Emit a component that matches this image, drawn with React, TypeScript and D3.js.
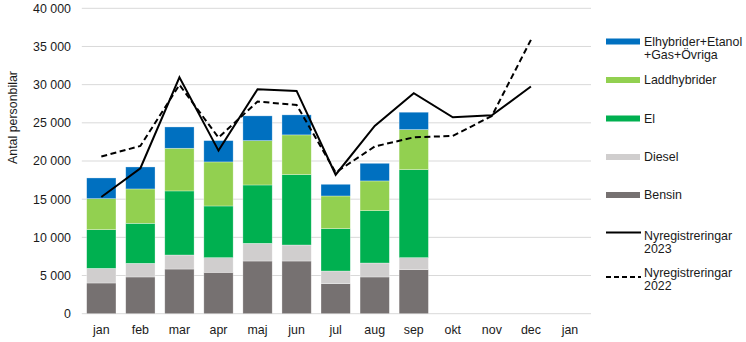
import React from "react";
import * as d3 from "d3";

const months = ["jan", "feb", "mar", "apr", "maj", "jun", "jul", "aug", "sep", "okt", "nov", "dec", "jan"];
const bensin = [4020, 4810, 5850, 5420, 6900, 6900, 3930, 4810, 5770];
const diesel = [1920, 1790, 1840, 1920, 2320, 2100, 1660, 1830, 1570];
const el = [5070, 5240, 8390, 6770, 7640, 9220, 5550, 6860, 11530];
const laddhybrider = [4060, 4500, 5590, 5770, 5810, 5200, 4280, 3890, 5250];
const ovriga = [2710, 2880, 2790, 2790, 3240, 2620, 1530, 2310, 2270];
const nyreg2023 = [15290, 19050, 30970, 21360, 29400, 29180, 18200, 24600, 28880, 25730, 25980, 29750];
const nyreg2022 = [20580, 21970, 29970, 23070, 27780, 27350, 18500, 21900, 23100, 23280, 25900, 35870];
const yTicks = [0, 5000, 10000, 15000, 20000, 25000, 30000, 35000, 40000];

const seriesKeys = ["bensin", "diesel", "el", "ladd", "ovriga"];
const colors: Record<string, string> = {
  bensin: "#767171",
  diesel: "#D0CECE",
  el: "#00B050",
  ladd: "#92D050",
  ovriga: "#0070C0",
};

const legendItems = [
  { key: "ovriga", lines: ["Elhybrider+Etanol", "+Gas+Övriga"], y: 41.5, type: "bar" },
  { key: "ladd", lines: ["Laddhybrider"], y: 80, type: "bar" },
  { key: "el", lines: ["El"], y: 118.5, type: "bar" },
  { key: "diesel", lines: ["Diesel"], y: 157, type: "bar" },
  { key: "bensin", lines: ["Bensin"], y: 195, type: "bar" },
  { key: "n2023", lines: ["Nyregistreringar", "2023"], y: 232.5, type: "solid" },
  { key: "n2022", lines: ["Nyregistreringar", "2022"], y: 277, type: "dashed" },
];

function fmt(v: number) {
  return d3.format(",")(v).replace(/,/g, " ");
}

export default function App() {
  const W = 746;
  const H = 342;
  const left = 81.8;
  const right = 589.5;
  const top = 8.3;
  const bottom = 313.7;
  const fs = 12.4;

  const idx = months.map((_, i) => String(i));
  const x = d3.scaleBand<string>().domain(idx).range([left, right]).paddingInner(0.25).paddingOuter(0.125);
  const y = d3.scaleLinear().domain([0, 40000]).range([bottom, top]);

  const rows = bensin.map((_, i) => ({
    i: String(i),
    bensin: bensin[i],
    diesel: diesel[i],
    el: el[i],
    ladd: laddhybrider[i],
    ovriga: ovriga[i],
  }));
  const stacked = d3.stack<any>().keys(seriesKeys)(rows);

  const cx = (i: number) => (x(String(i)) as number) + x.bandwidth() / 2;
  const line = d3
    .line<number>()
    .x((_, i) => cx(i))
    .y((d) => y(d));

  const font = "'Liberation Sans', Arial, sans-serif";

  return (
    <svg
      width={W}
      height={H}
      style={{ position: "absolute", left: 0, top: 0, background: "#fff" }}
      fontFamily={font}
    >
      {yTicks.map((t) => (
        <g key={t}>
          <line x1={left} x2={right + 1.5} y1={y(t)} y2={y(t)} stroke="#d9d9d9" strokeWidth={1} />
          <text x={71} y={y(t)} dy="0.35em" textAnchor="end" fontSize={fs} fill="#1a1a1a">
            {fmt(t)}
          </text>
        </g>
      ))}
      <text
        transform={`translate(12.5,117.5) rotate(-90)`}
        textAnchor="middle"
        dy="0.35em"
        fontSize={fs}
        fill="#1a1a1a"
      >
        Antal personbilar
      </text>
      {stacked.map((s) => (
        <g key={s.key} fill={colors[s.key]}>
          {s.map((d: any, j: number) => (
            <rect
              key={j}
              x={x(d.data.i)}
              width={x.bandwidth()}
              y={y(d[1])}
              height={y(d[0]) - y(d[1])}
              stroke="#ffffff"
              strokeOpacity={0.5}
              strokeWidth={0.6}
            />
          ))}
        </g>
      ))}
      <path d={line(nyreg2022) || ""} fill="none" stroke="#000" strokeWidth={2} strokeDasharray="6,3.5" />
      <path d={line(nyreg2023) || ""} fill="none" stroke="#000" strokeWidth={2} />
      {months.map((m, i) => (
        <text key={i} x={cx(i)} y={333.5} textAnchor="middle" fontSize={fs} fill="#1a1a1a">
          {m}
        </text>
      ))}
      {legendItems.map((it) => (
        <g key={it.key}>
          {it.type === "bar" ? (
            <rect x={606} y={it.y - 3} width={34} height={6} fill={colors[it.key]} />
          ) : (
            <line
              x1={606}
              x2={641}
              y1={it.y}
              y2={it.y}
              stroke="#000"
              strokeWidth={2}
              strokeDasharray={it.type === "dashed" ? "5,3" : undefined}
            />
          )}
          {it.lines.map((l, k) => (
            <text
              key={k}
              x={644}
              y={(it.type === "dashed" ? it.y - 4 : it.type === "solid" ? it.y + 3 : it.y) + k * 12.7}
              dy="0.35em"
              fontSize={fs}
              fill="#1a1a1a"
            >
              {l}
            </text>
          ))}
        </g>
      ))}
    </svg>
  );
}
